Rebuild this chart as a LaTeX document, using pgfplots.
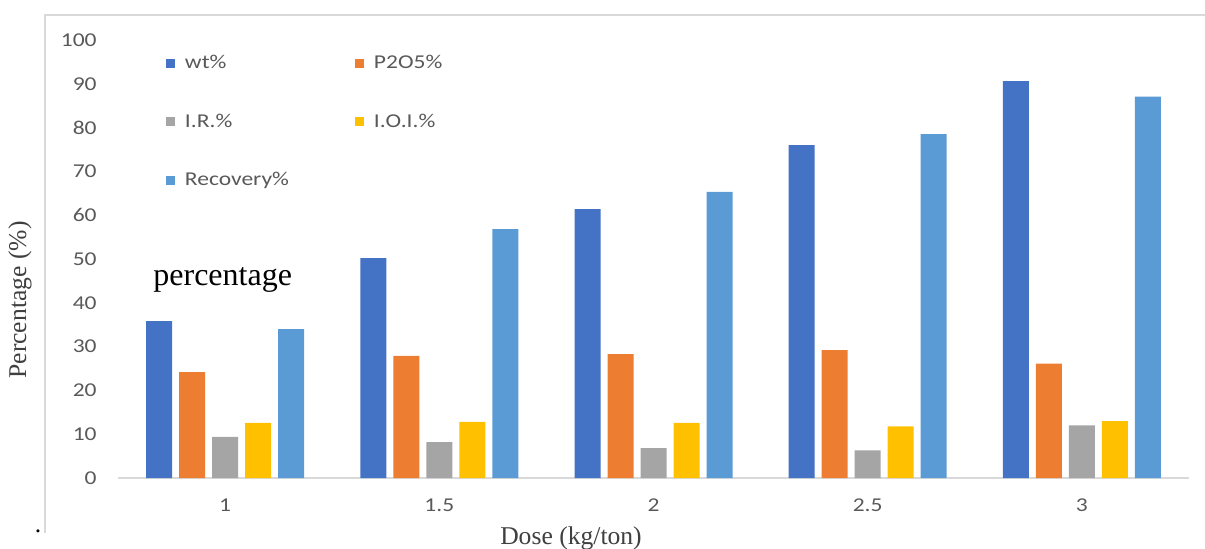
\documentclass[border=0pt]{standalone}
\usepackage{fontspec}
\setmainfont{Liberation Serif}
\newfontfamily\tickfont[FakeStretch=1.2]{Carlito}
\usepackage{pgfplots}
\pgfplotsset{compat=1.18}
\definecolor{cwt}{HTML}{4472C4}
\definecolor{cpo}{HTML}{ED7D31}
\definecolor{cir}{HTML}{A5A5A5}
\definecolor{cioi}{HTML}{FFC000}
\definecolor{crec}{HTML}{5B9BD5}
\definecolor{framegray}{HTML}{D9D9D9}
\definecolor{ticktext}{HTML}{595959}
\definecolor{labeltext}{HTML}{404040}
\begin{document}
\begin{tikzpicture}
\useasboundingbox (0,0) rectangle (602.5pt,274pt);
\draw[color=framegray, line width=1pt] (22.5pt,7.5pt) -- (22.5pt,266.5pt) -- (602.5pt,266.5pt);
\begin{axis}[
  at={(59pt,35pt)}, anchor=south west,
  scale only axis, width=535.5pt, height=219pt,
  ybar=3.5pt, bar width=13pt,
  xmin=-0.5, xmax=4.5, ymin=0, ymax=100,
  xtick={0,1,2,3,4}, xticklabels={1,1.5,2,2.5,3},
  ytick={0,10,...,100},
  axis x line*=bottom, axis y line*=left,
  x axis line style={draw=framegray, line width=1pt, -},
  y axis line style={draw=none},
  major tick length=0pt,
  /pgf/number format/assume math mode=true,
  tick label style={font=\tickfont\fontsize{9.8}{11}\selectfont, color=ticktext},
  yticklabel style={anchor=east, inner sep=0pt, xshift=-10.5pt},
  xticklabel style={anchor=base, inner sep=0pt, yshift=-16.5pt},
  legend columns=2,
  legend cell align=left,
  legend image code/.code={\fill[#1] (0pt,-2.25pt) rectangle (4.5pt,2.25pt);},
  legend style={draw=none, fill=none, inner sep=0pt, outer sep=0pt,
    at={(0.0448,0.966)}, anchor=north west,
    font=\tickfont\fontsize{9.8}{11}\selectfont, text=ticktext,
    nodes={inner sep=0pt},
    row sep=21.2pt,
    /tikz/every odd column/.append style={column sep=5pt},
    /tikz/every even column/.append style={column sep=33pt}},
]
\addplot[fill=cwt, draw=none] coordinates {(0,35.8) (1,50.2) (2,61.4) (3,76.0) (4,90.6)};
\addplot[fill=cpo, draw=none] coordinates {(0,24.2) (1,27.9) (2,28.3) (3,29.2) (4,26.1)};
\addplot[fill=cir, draw=none] coordinates {(0,9.4) (1,8.2) (2,6.8) (3,6.3) (4,12.0)};
\addplot[fill=cioi, draw=none] coordinates {(0,12.6) (1,12.8) (2,12.6) (3,11.8) (4,13.0)};
\addplot[fill=crec, draw=none] coordinates {(0,34.0) (1,56.8) (2,65.3) (3,78.5) (4,87.1)};
\legend{wt\%, P2O5\%, I.R.\%, I.O.I.\%, Recovery\%}
\end{axis}
\node[font=\fontsize{16}{18}\selectfont, anchor=base west, inner sep=0pt] at (76.5pt,131.5pt) {percentage};
\node[rotate=90, font=\fontsize{12.8}{14}\selectfont, text=labeltext, inner sep=0pt] at (10pt,124pt) {Percentage (\%)};
\node[anchor=base, font=\fontsize{12.8}{14}\selectfont, text=labeltext, inner sep=0pt] at (285.5pt,2pt) {Dose (kg/ton)};
\node[anchor=base, font=\fontsize{12.8}{14}\selectfont, inner sep=0pt] at (19pt,8pt) {.};
\end{tikzpicture}
\end{document}
